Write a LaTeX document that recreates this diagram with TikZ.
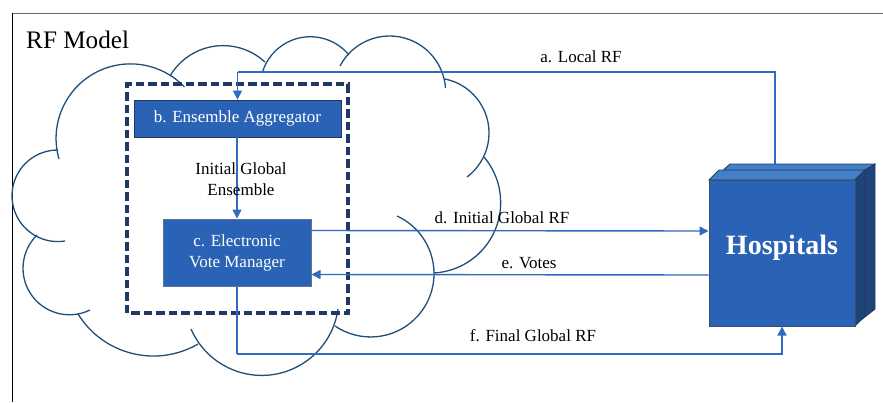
\documentclass[tikz,border=0pt]{standalone}
\usepackage{fontspec}
\setmainfont{Liberation Serif}
\usetikzlibrary{arrows.meta}
\definecolor{boxblue}{HTML}{2A62B5}
\definecolor{toplight}{HTML}{437FC7}
\definecolor{sidedark}{HTML}{1F4478}
\definecolor{edgedark}{HTML}{1F3864}
\definecolor{cloudline}{HTML}{1F4E79}
\definecolor{wire}{HTML}{2F6BBF}
\newcommand{\cloudarc}[6]{%
  \pgfmathsetmacro{\ax}{#1/100}\pgfmathsetmacro{\ay}{#2/100}%
  \pgfmathsetmacro{\bx}{#3/100}\pgfmathsetmacro{\by}{#4/100}%
  \pgfmathsetmacro{\ccx}{#5/100}\pgfmathsetmacro{\ccy}{#6/100}%
  \pgfmathsetmacro{\dd}{2*(\ax*(\by-\ccy)+\bx*(\ccy-\ay)+\ccx*(\ay-\by))}%
  \pgfmathsetmacro{\sa}{\ax*\ax+\ay*\ay}%
  \pgfmathsetmacro{\sb}{\bx*\bx+\by*\by}%
  \pgfmathsetmacro{\sc}{\ccx*\ccx+\ccy*\ccy}%
  \pgfmathsetmacro{\ux}{(\sa*(\by-\ccy)+\sb*(\ccy-\ay)+\sc*(\ay-\by))/\dd}%
  \pgfmathsetmacro{\uy}{(\sa*(\ccx-\bx)+\sb*(\ax-\ccx)+\sc*(\bx-\ax))/\dd}%
  \pgfmathsetmacro{\rr}{100*veclen(\ax-\ux,\ay-\uy)}%
  \pgfmathsetmacro{\tha}{atan2(\ay-\uy,\ax-\ux)}%
  \pgfmathsetmacro{\thc}{atan2(\ccy-\uy,\ccx-\ux)}%
  \pgfmathsetmacro{\thd}{\dd>0 ? (\thc<\tha ? \thc+360 : \thc) : (\thc>\tha ? \thc-360 : \thc)}%
  \draw[cloudstroke] (#1,#2) arc[start angle=\tha,end angle=\thd,radius=\rr];%
}
\tikzset{
  x=1pt,y=-1pt,
  cloudstroke/.style={draw=cloudline,line width=1.3pt},
  procbox/.style={fill=boxblue,text=white,font=\fontsize{17}{21}\selectfont,align=center,inner sep=0pt},
  flow/.style={draw=wire,line width=1.4pt},
  flowarrow/.style={flow,-{Triangle[length=9pt,width=9pt]}},
  lbl/.style={font=\fontsize{17}{21}\selectfont,text=black,align=center,inner sep=0pt},
}
\begin{document}
\begin{tikzpicture}
\useasboundingbox (0,0) rectangle (883,402);
% frame
\draw[draw=gray!85!black,line width=0.9pt] (12,13.5) -- (883,13.5);
\draw[draw=black,line width=0.9pt] (12.5,13) -- (12.5,402);
\node[font=\fontsize{25.2}{28}\selectfont,inner sep=0pt,anchor=west] (title) at (26,39.5) {RF Model};
% cloud
\cloudarc{59}{159}{70}{95}{184.5}{87}
\cloudarc{170}{76}{216}{46}{265}{62}
\cloudarc{262.5}{72}{305}{37}{349}{55}
\cloudarc{340}{66}{390}{36}{445.5}{88}
\cloudarc{445}{79}{489}{135}{467}{177}
\cloudarc{484}{157}{497}{225}{434}{273}
\cloudarc{397}{216}{434}{275}{335}{326}
\cloudarc{338}{309}{315}{354}{191}{329}
\cloudarc{198}{344}{155}{356}{78}{314}
\cloudarc{90}{310}{23}{268}{37}{235}
\cloudarc{65}{241}{12}{195}{58}{150}
% dashed group
\draw[draw=edgedark,line width=3.2pt,dash pattern=on 8.5pt off 4pt] (127,313) -- (127,84) -- (348,84) -- (348,313) -- cycle;
% hospitals back stack
\fill[fill=toplight,draw=edgedark,line width=0.9pt] (719,174) -- (730,164) -- (875,164) -- (865,174) -- cycle;
\fill[fill=sidedark,draw=edgedark,line width=0.9pt] (865,170) -- (875,164) -- (875,309) -- (861,320) -- cycle;
\fill[fill=toplight,draw=edgedark,line width=0.9pt] (709,180) -- (719,170) -- (865,170) -- (855,180) -- cycle;
\fill[fill=sidedark,draw=edgedark,line width=0.9pt] (855,180) -- (865,170) -- (865,316) -- (855,326) -- cycle;
% nodes
\node[procbox,draw=edgedark,line width=0.8pt,minimum width=207pt,minimum height=37pt] (b) at (237.5,118.5) {b. Ensemble Aggregator};
\node[procbox,draw=gray!60!boxblue,line width=1pt,minimum width=148pt,minimum height=67pt] (c) at (237,252.5) {c. Electronic\\Vote Manager};
\node[procbox,draw=edgedark!70!gray,line width=1pt,minimum width=146pt,minimum height=146pt] (hosp) at (782,253) {};
\node[font=\fontsize{28}{30}\selectfont\bfseries,text=white,inner sep=0pt] (hosptext) at (782,248) {Hospitals};
% coordinates
\coordinate (hb) at (775,164);
\coordinate (atop) at (237.5,72);
\coordinate (fbottom) at (237,354);
% connectors
\draw[flow] (hb) -- (775,72) -- (atop);
\draw[flowarrow] (atop) -- (b.north);
\draw[flowarrow] (b.south -| c.north) -- (c.north);
\draw[flowarrow] ([yshift=22pt]c.east) -- ([yshift=22pt]hosp.west);
\draw[flowarrow] ([yshift=-22pt]hosp.west) -- ([yshift=-22pt]c.east);
\draw[flow] (c.south) -- (fbottom);
\draw[flowarrow] (fbottom) -| (hosp.south);
% labels
\node[lbl] (la) at (581,57) {a. Local RF};
\node[lbl] (lig) at (241,179.5) {Initial Global\\Ensemble};
\node[lbl] (ld) at (502,218) {d. Initial Global RF};
\node[lbl] (le) at (529,263) {e. Votes};
\node[lbl] (lf) at (533,336) {f. Final Global RF};
\end{tikzpicture}
\end{document}
